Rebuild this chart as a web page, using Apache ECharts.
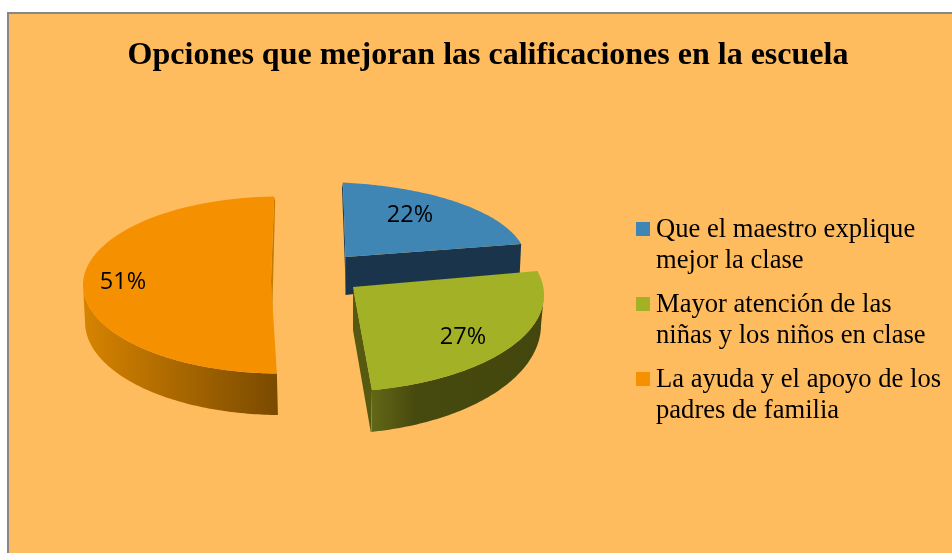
<!DOCTYPE html>
<html><head><meta charset="utf-8">
<style>html,body{margin:0;padding:0;background:#fff}#c{width:952px;height:553px}</style>
<script src="https://cdn.jsdelivr.net/npm/echarts@6/dist/echarts.min.js"></script>
</head><body><div id="c"></div>
<script>
const titleText = 'Opciones que mejoran las calificaciones en la escuela';
const categories = ['Que el maestro explique\nmejor la clase', 'Mayor atención de las\nniñas y los niños en clase', 'La ayuda y el apoyo de los\npadres de familia'];
const values = [22, 27, 51];
const colors = ['#3f86b5', '#a3b126', '#f59000'];

// projection of each exploded slice (tilted, perspective view)
const layout = [
  { apex:[345.5,257], top:{cx:318,rx:208,cy:261,ry:79}, shift:[6.9,-1.6], label:[410,215],
    walls:[
      {pts:'front', color:'#1a344b', pointsOff:[[0,38],[-1.5,31]]},
      {pts:'back', color:'#1f3f58', pointsOff:[[0.5,38],[-1,6]]}
    ] },
  { apex:[353,287], top:{cx:330,rx:214,cy:295,ry:97}, bottom:{cx:330,rx:211,cy:325,ry:109}, shift:[-3.5,-7.7],
    side:[90,360], sideStops:[[371,'#636816'],[415,'#474a0e'],[541,'#44470d']], label:[463,337],
    walls:[{pts:'back', color:'#555a10', pointsOff:[[0,43],[-1,43]], useEnd:true}] },
  { apex:[271,281], top:{cx:280,rx:197,cy:285,ry:88.5}, bottom:{cx:281,rx:196,cy:322,ry:93}, shift:[4.5,-1.7],
    side:[0,270], sideStops:[[85,'#d68300'],[278,'#7a4a00']], label:[123,282],
    walls:[{pts:'back', color:'#c67b00', pointsOff:[[1,40],[1,5]]}] }
];

const total = values.reduce((a, b) => a + b, 0);
const startAngles = values.map((_, i) => values.slice(0, i).reduce((a, b) => a + b, 0) / total * 360);

function onEllipse(e, deg) {
  const r = deg * Math.PI / 180;
  return [e.cx + e.rx * Math.sin(r), e.cy - e.ry * Math.cos(r)];
}
function arc(e, from, to) {
  const out = [], n = Math.max(2, Math.ceil(Math.abs(to - from)));
  for (let k = 0; k <= n; k++) out.push(onEllipse(e, from + (to - from) * k / n));
  return out;
}
function add(p, o) { return [p[0] + o[0], p[1] + o[1]]; }

function renderSlice(i) {
  const L = layout[i];
  const sweep = values[i] / total * 360;
  const a0 = startAngles[i] + L.shift[0], a1 = startAngles[i] + sweep + L.shift[1];
  const rim = arc(L.top, a0, a1);
  const cStart = rim[0], cEnd = rim[rim.length - 1];
  const children = [];
  L.walls.forEach(w => {
    let pts;
    if (w.pts === 'front') pts = [L.apex, cEnd, add(cEnd, w.pointsOff[1]), add(L.apex, w.pointsOff[0])];
    else if (w.useEnd) pts = [L.apex, cEnd, add(cEnd, w.pointsOff[1]), add(L.apex, w.pointsOff[0])];
    else pts = [cEnd, L.apex, add(L.apex, w.pointsOff[0]), add(cEnd, w.pointsOff[1])];
    if (i === 0 && w.pts === 'back') pts = [cStart, L.apex, add(L.apex, w.pointsOff[0]), add(cStart, w.pointsOff[1])];
    children.push({ type:'polygon', shape:{points:pts}, style:{fill:w.color} });
  });
  if (L.side) {
    const f = Math.max(a0, L.side[0]), t = Math.min(a1, L.side[1]);
    const up = arc(L.top, f, t), down = arc(L.bottom, t, f);
    const x0 = L.sideStops[0][0], x1 = L.sideStops[L.sideStops.length - 1][0];
    children.push({ type:'polygon', shape:{points:up.concat(down)}, style:{
      fill:{ type:'linear', x:x0, y:0, x2:x1, y2:0, global:true,
        colorStops:L.sideStops.map(s => ({offset:(s[0]-x0)/(x1-x0), color:s[1]})) } } });
  }
  children.push({ type:'polygon', shape:{points:[L.apex].concat(rim)}, style:{fill:colors[i]} });
  children.push({ type:'text', x:L.label[0], y:L.label[1], style:{
    text:values[i] + '%', fill:'#000', font:'23.5px "Open Sans", sans-serif', textAlign:'center', textVerticalAlign:'middle' } });
  return { type:'group', children };
}

const chart = echarts.init(document.getElementById('c'), null, { renderer:'canvas' });
chart.setOption({
  animation:false,
  backgroundColor:'#ffffff',
  title:{ text:titleText, left:488, top:40, textAlign:'center', padding:0,
    textStyle:{ fontFamily:'"Liberation Serif"', fontWeight:'bold', fontSize:32, color:'#000' } },
  legend:{ orient:'vertical', left:636, top:214.5, padding:0, itemGap:13, itemWidth:14, itemHeight:47,
    data:categories, selectedMode:false,
    icon:'path://M0 0H14V14H0Z M0 47H0.01V47.01H0Z',
    textStyle:{ fontFamily:'"Liberation Serif"', fontSize:26.6, lineHeight:31, color:'#000', padding:[0,0,0,1] } },
  graphic:[{ type:'rect', z:-10, silent:true, shape:{x:8,y:13,width:960,height:560},
    style:{ fill:'#ffbc5e', stroke:'#878787', lineWidth:2 } }],
  series:categories.map((name, i) => ({
    type:'custom', name, coordinateSystem:'none', silent:true,
    itemStyle:{ color:colors[i] }, data:[values[i]],
    renderItem:() => renderSlice(i)
  }))
});
</script></body></html>
